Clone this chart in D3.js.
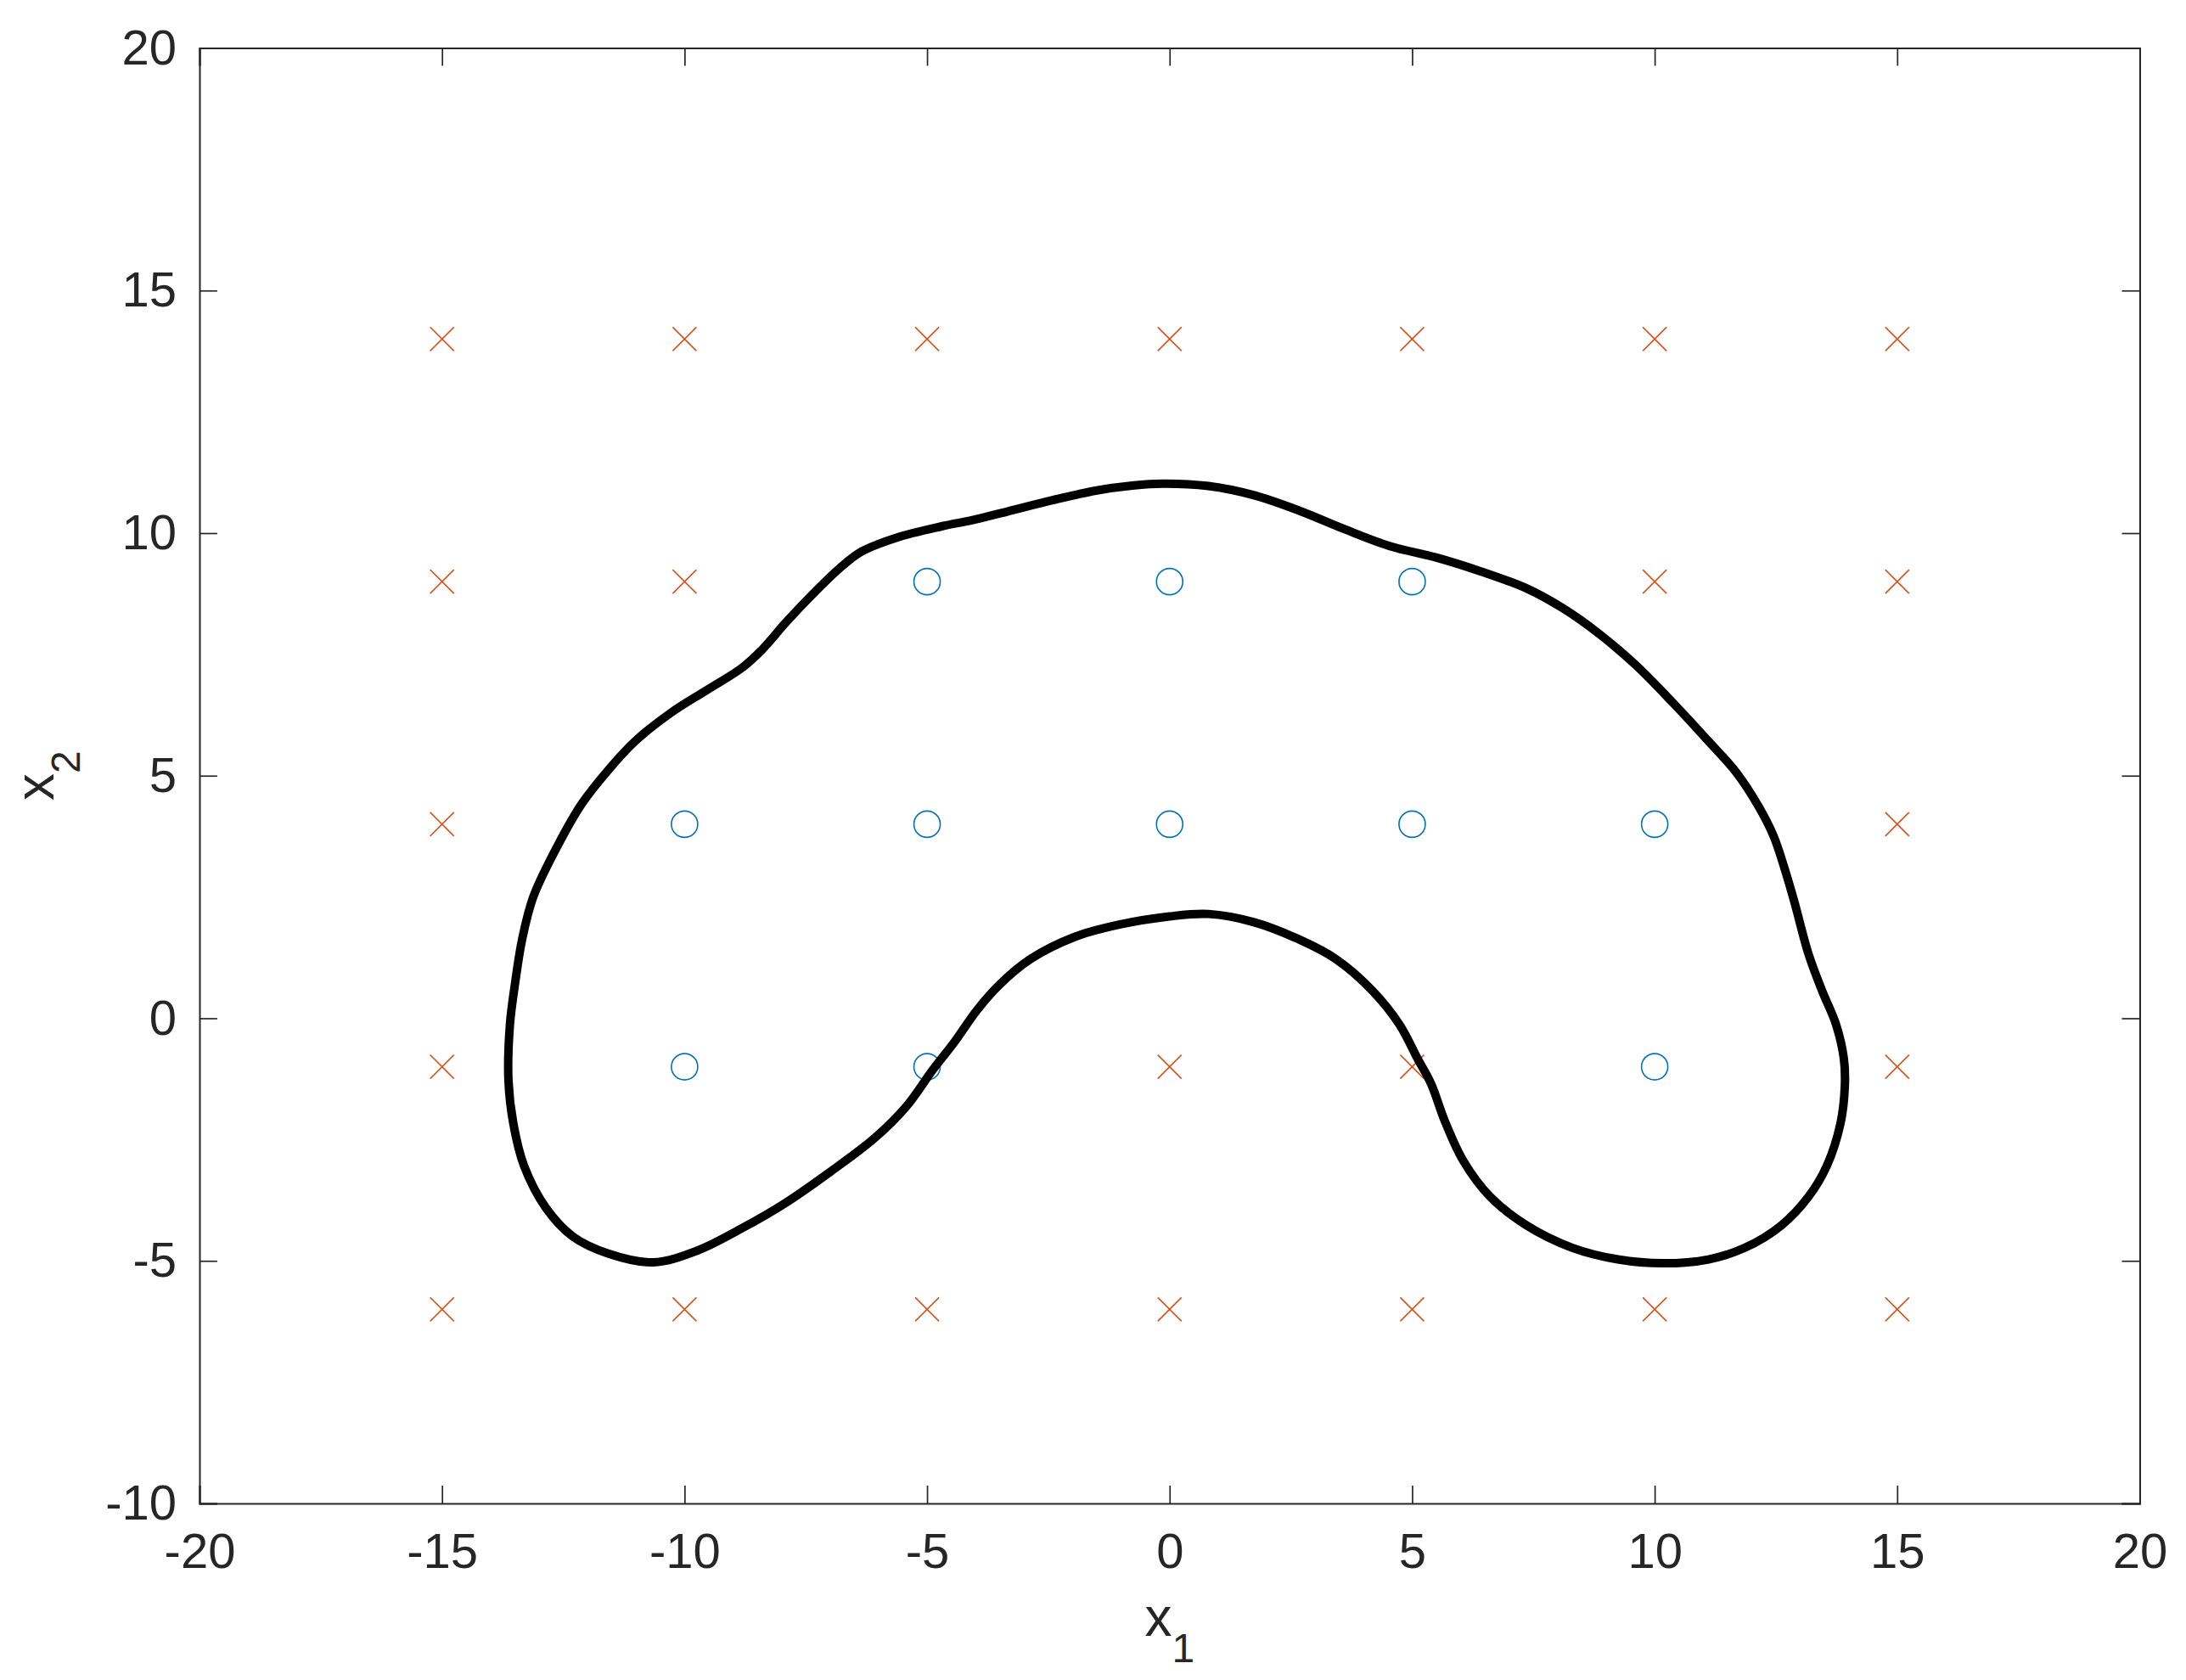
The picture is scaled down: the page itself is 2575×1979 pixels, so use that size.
<!DOCTYPE html>
<html>
<head>
<meta charset="utf-8">
<script src="https://cdn.jsdelivr.net/npm/d3@7"></script>
<style>
  body { margin: 0; background: #fff; }
  text { font-family: "Liberation Sans", Arial, Helvetica, sans-serif; fill: #262626; }
</style>
</head>
<body>
<div id="chart"></div>
<script>
// grid of training points
const gridX1 = [-15, -10, -5, 0, 5, 10, 15];
const gridX2 = [14, 9, 4, -1, -6];
// 1 = circle (positive), 0 = cross (negative); rows follow gridX2
const classLabels = [
  [0, 0, 0, 0, 0, 0, 0],
  [0, 0, 1, 1, 1, 0, 0],
  [0, 1, 1, 1, 1, 1, 0],
  [0, 1, 1, 0, 0, 1, 0],
  [0, 0, 0, 0, 0, 0, 0]
];

// decision boundary (closed loop)
const boundaryX1 = [-0.14, 0.80, 1.74, 2.68, 3.61, 4.55, 5.49, 6.42, 7.36, 8.11, 8.86, 9.61, 10.36, 11.11, 11.68, 12.14, 12.45, 12.68, 12.88, 13.17, 13.45, 13.74, 13.90, 13.92, 13.83, 13.55, 13.17, 12.61, 11.86, 11.11, 10.17, 9.24, 8.30, 7.36, 6.61, 6.05, 5.67, 5.39, 5.11, 4.74, 4.18, 3.43, 2.68, 1.74, 0.80, 0.0, -1.04, -1.95, -2.87, -3.51, -3.97, -4.43, -4.88, -5.43, -6.07, -6.99, -7.91, -8.82, -9.74, -10.65, -11.57, -12.30, -12.85, -13.31, -13.53, -13.63, -13.60, -13.49, -13.35, -13.12, -12.62, -12.12, -11.57, -11.02, -10.29, -9.55, -8.82, -8.40, -7.91, -7.36, -6.81, -6.35, -5.62, -4.70, -4.06, -3.33, -2.41, -1.50, -0.77];
const boundaryX2 = [11.02, 10.97, 10.78, 10.46, 10.08, 9.73, 9.50, 9.21, 8.86, 8.45, 7.92, 7.28, 6.52, 5.71, 5.07, 4.37, 3.76, 3.08, 2.40, 1.33, 0.57, -0.13, -0.83, -1.41, -2.17, -3.04, -3.68, -4.27, -4.73, -4.97, -5.05, -4.97, -4.73, -4.27, -3.68, -2.93, -2.11, -1.35, -0.83, -0.13, 0.57, 1.22, 1.62, 1.98, 2.15, 2.10, 1.93, 1.68, 1.22, 0.69, 0.17, -0.48, -1.06, -1.82, -2.46, -3.16, -3.80, -4.33, -4.79, -5.03, -4.85, -4.50, -3.92, -3.04, -2.17, -1.29, -0.13, 0.75, 1.62, 2.50, 3.55, 4.42, 5.12, 5.71, 6.29, 6.76, 7.22, 7.60, 8.16, 8.74, 9.27, 9.62, 9.91, 10.14, 10.27, 10.45, 10.68, 10.88, 10.98];

const xTicks = [-20, -15, -10, -5, 0, 5, 10, 15, 20];
const yTicks = [-10, -5, 0, 5, 10, 15, 20];

const width = 2575, height = 1979;
const margin = {top: 56.5, right: 54.5, bottom: 208, left: 235};
const innerW = width - margin.left - margin.right;
const innerH = height - margin.top - margin.bottom;

const svg = d3.select("#chart").append("svg")
  .attr("width", width)
  .attr("height", height)
  .style("background", "#fff");

const g = svg.append("g").attr("transform", `translate(${margin.left},${margin.top})`);

const x = d3.scaleLinear().domain([-20, 20]).range([0, innerW]);
const y = d3.scaleLinear().domain([-10, 20]).range([innerH, 0]);

const tickLen = 21;
const fmt = d => String(d);

// axes on all four sides, ticks pointing in
const xAxis = g.append("g").attr("transform", `translate(0,${innerH})`)
  .call(d3.axisBottom(x).tickValues(xTicks).tickFormat(fmt).tickSize(-tickLen).tickPadding(35));
const yAxis = g.append("g")
  .call(d3.axisLeft(y).tickValues(yTicks).tickFormat(fmt).tickSize(-tickLen).tickPadding(27));
const xTop = g.append("g")
  .call(d3.axisTop(x).tickValues(xTicks).tickFormat("").tickSize(-tickLen));
const yRight = g.append("g").attr("transform", `translate(${innerW},0)`)
  .call(d3.axisRight(y).tickValues(yTicks).tickFormat("").tickSize(-tickLen));

[xAxis, yAxis, xTop, yRight].forEach(a => {
  a.select(".domain").attr("stroke", "#262626").attr("stroke-width", 2);
  a.selectAll(".tick line").attr("stroke", "#262626").attr("stroke-width", 1.7);
  a.selectAll(".tick text")
    .style("font-size", "58px")
    .style("font-family", "'Liberation Sans', Arial, sans-serif")
    .attr("fill", "#262626");
});

// points
const pts = [];
gridX2.forEach((v, i) => gridX1.forEach((u, j) => pts.push({x1: u, x2: v, c: classLabels[i][j]})));

g.selectAll(".neg").data(pts.filter(d => d.c === 0)).enter()
  .append("path")
  .attr("class", "neg")
  .attr("d", d => {
    const cx = x(d.x1), cy = y(d.x2), r = 14;
    return `M${cx - r},${cy - r}L${cx + r},${cy + r}M${cx - r},${cy + r}L${cx + r},${cy - r}`;
  })
  .attr("stroke", "#D95319")
  .attr("stroke-width", 1.6)
  .attr("fill", "none");

g.selectAll(".pos").data(pts.filter(d => d.c === 1)).enter()
  .append("circle")
  .attr("class", "pos")
  .attr("cx", d => x(d.x1))
  .attr("cy", d => y(d.x2))
  .attr("r", 15.5)
  .attr("stroke", "#0072BD")
  .attr("stroke-width", 1.6)
  .attr("fill", "none");

// decision boundary
const boundary = boundaryX1.map((v, i) => [v, boundaryX2[i]]);
g.append("path")
  .datum(boundary)
  .attr("d", d3.line().x(d => x(d[0])).y(d => y(d[1])).curve(d3.curveCatmullRomClosed.alpha(0.5)))
  .attr("fill", "none")
  .attr("stroke", "#000")
  .attr("stroke-width", 10)
  .attr("stroke-linejoin", "round");

// axis labels
const xl = svg.append("text")
  .attr("x", margin.left + innerW / 2)
  .attr("y", 1927)
  .attr("text-anchor", "middle")
  .style("font-size", "64px");
xl.append("tspan").text("x");
xl.append("tspan").attr("dy", 31).style("font-size", "48px").text("1");

const yl = svg.append("text")
  .attr("transform", `translate(63,${margin.top + innerH / 2}) rotate(-90)`)
  .attr("text-anchor", "middle")
  .style("font-size", "64px");
yl.append("tspan").text("x");
yl.append("tspan").attr("dy", 31).style("font-size", "48px").text("2");
</script>
</body>
</html>
